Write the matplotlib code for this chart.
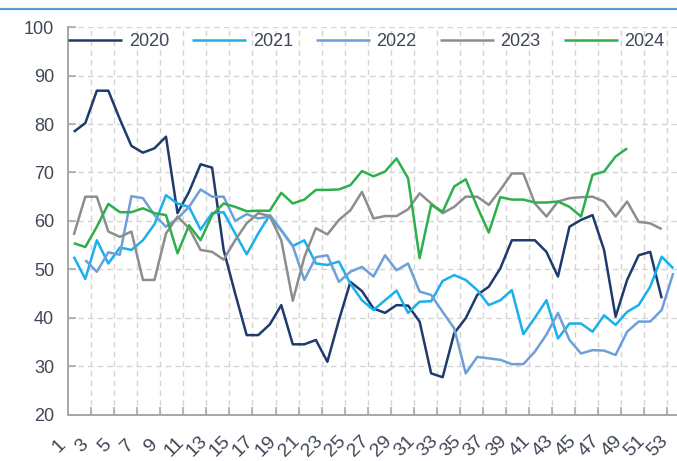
import numpy as np
import matplotlib
matplotlib.use("Agg")
import matplotlib.pyplot as plt
from matplotlib.lines import Line2D
from matplotlib.transforms import ScaledTranslation

nan = np.nan

weeks = list(range(1, 54))
week_labels = [str(w) for w in range(1, 54, 2)]
years = ["2020", "2021", "2022", "2023", "2024"]

y2020 = [78.4, 80.2, 86.9, 86.9, 81.0, 75.5, 74.1, 75.0, 77.4, 61.6,
         66.0, 71.7, 71.0, 54.0, 45.0, 36.4, 36.4, 38.6, 42.6, 34.5,
         34.5, 35.4, 30.9, 39.5, 47.4, 45.5, 41.9, 41.0, 42.6, 42.5,
         39.2, 28.5, 27.7, 36.8, 39.9, 44.7, 46.4, 50.2, 56.0, 56.0,
         56.0, 53.6, 48.5, 58.8, 60.2, 61.2, 54.0, 40.2, 47.8, 52.9,
         53.6, 44.0, nan]
y2021 = [52.6, 48.0, 56.0, 51.2, 54.5, 54.0, 56.0, 59.3, 65.3, 63.6,
         62.9, 58.2, 61.6, 61.8, 57.4, 53.1, 57.4, 61.2, 58.1, 54.8,
         56.0, 51.2, 50.9, 51.6, 47.0, 43.6, 41.6, 43.6, 45.6, 41.0,
         43.3, 43.4, 47.6, 48.8, 47.8, 45.7, 42.6, 43.6, 45.7, 36.6,
         40.0, 43.6, 35.7, 38.8, 38.8, 37.1, 40.5, 38.5, 41.2, 42.6,
         46.4, 52.6, 50.2]
y2022 = [nan, 51.9, 49.5, 53.5, 53.0, 65.1, 64.7, 61.2, 58.8, 60.5,
         62.9, 66.5, 65.0, 65.0, 60.0, 61.4, 60.5, 60.9, 58.0, 54.8,
         47.8, 52.5, 52.9, 47.4, 49.5, 50.5, 48.5, 52.9, 49.8, 51.2,
         45.4, 44.7, 41.2, 37.8, 28.5, 31.9, 31.6, 31.3, 30.4, 30.4,
         33.0, 36.5, 41.0, 35.4, 32.6, 33.3, 33.2, 32.3, 37.1, 39.2,
         39.2, 41.6, 49.2]
y2023 = [57.1, 65.0, 65.0, 57.8, 56.7, 57.8, 47.8, 47.8, 57.4, 60.9,
         58.5, 54.0, 53.6, 52.0, 56.0, 59.5, 61.6, 61.0, 56.0, 43.5,
         52.5, 58.5, 57.2, 60.2, 62.2, 66.0, 60.5, 61.0, 61.0, 62.4,
         65.7, 63.6, 61.6, 62.9, 65.0, 65.0, 63.3, 66.4, 69.8, 69.8,
         63.6, 60.9, 64.0, 64.7, 64.9, 65.0, 64.0, 60.9, 64.0, 59.8,
         59.5, 58.3, nan]
y2024 = [55.4, 54.6, 58.8, 63.5, 61.8, 61.8, 62.6, 61.6, 61.2, 53.3,
         59.1, 56.0, 61.2, 63.6, 62.9, 62.0, 62.1, 62.1, 65.8, 63.6,
         64.4, 66.4, 66.4, 66.5, 67.4, 70.3, 69.2, 70.2, 72.9, 68.8,
         52.3, 63.3, 61.9, 67.1, 68.6, 62.9, 57.6, 64.9, 64.4, 64.4,
         63.8, 63.8, 64.0, 62.9, 60.9, 69.5, 70.2, 73.3, 75.0,
         nan, nan, nan, nan]

series = [y2020, y2021, y2022, y2023, y2024]
colors = ["#1f3a6c", "#19b0ec", "#6f9fd8", "#8d8d8d", "#2db04b"]

plt.rcParams["font.family"] = ["Liberation Sans", "DejaVu Sans"]
text_color = "#3f4756"
axis_grey = "#a6a6a6"
grid_grey = "#d4d4d4"

W, H = 677, 461
fig = plt.figure(figsize=(W / 100, H / 100), dpi=100)
left_px, right_px, top_px, bottom_px = 68, 679, 27.3, 414.5
ax = fig.add_axes([left_px / W, 1 - bottom_px / H,
                   (right_px - left_px) / W, (bottom_px - top_px) / H])

for name, vals, col in zip(years, series, colors):
    ax.plot(weeks, vals, color=col, lw=1.8, label=name,
            solid_joinstyle="round", solid_capstyle="butt")

ax.set_xlim(0.5, 53.5)
ax.set_ylim(20, 100)

# category axis: labels on odd weeks, ticks/gridlines on every second boundary
ax.set_xticks(range(1, 54, 2))
ax.set_xticklabels(week_labels)
ax.set_xticks(np.arange(2.5, 53, 2), minor=True)
ax.tick_params(axis="x", which="major", length=0, pad=23,
               labelsize=14, labelcolor=text_color)
ax.tick_params(axis="x", which="minor", direction="in", length=6,
               width=1.1, color=axis_grey)
shift = ScaledTranslation(-0.15, 0, fig.dpi_scale_trans)
for lab in ax.get_xticklabels():
    lab.set_rotation(45)
    lab.set_ha("center")
    lab.set_va("center")
    lab.set_transform(lab.get_transform() + shift)

ax.set_yticks(range(20, 101, 10))
ax.tick_params(axis="y", direction="in", length=6, width=1.1,
               color=axis_grey, pad=10, labelsize=13, labelcolor=text_color)

ax.grid(True, axis="x", which="minor", color=grid_grey, lw=1.0,
        linestyle=(0, (4, 3)))
ax.grid(True, axis="y", which="major", color=grid_grey, lw=1.0,
        linestyle=(0, (4, 3)))
ax.set_axisbelow(True)

for s in ["top", "right"]:
    ax.spines[s].set_visible(False)
for s in ["left", "bottom"]:
    ax.spines[s].set_color(axis_grey)
    ax.spines[s].set_linewidth(1.4)

fig.legend(loc="center left", bbox_to_anchor=(left_px / W, 1 - 42 / H),
           ncol=5, frameon=False, fontsize=13, labelcolor=text_color,
           handlelength=3.0, handletextpad=0.36, columnspacing=1.28,
           borderpad=0, borderaxespad=0)

# header rule above the chart
fig.add_artist(Line2D([0, 1], [1 - 9.5 / H, 1 - 9.5 / H],
                      transform=fig.transFigure, color="#5b9bd5", lw=1.6))

fig.savefig("out.png", dpi=100)
